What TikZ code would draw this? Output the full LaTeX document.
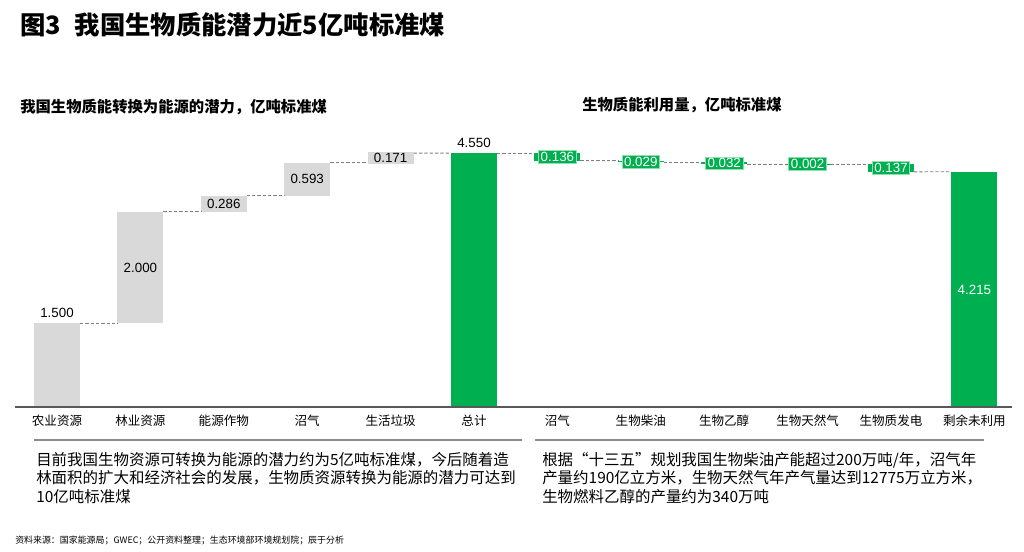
\documentclass[tikz,border=0pt]{standalone}
\usepackage{fontspec}
\setmainfont{Noto Sans CJK SC}
\newfontfamily\numf{Liberation Sans}
\usetikzlibrary{calc}
\definecolor{grn}{HTML}{00B050}
\definecolor{lgrn}{HTML}{8FE0AE}
\definecolor{barg}{HTML}{D9D9D9}
\definecolor{dashg}{HTML}{7F7F7F}
\definecolor{axisg}{HTML}{595959}
\definecolor{sepg}{HTML}{8C8C8C}
\newcommand{\bv}{41.85pt}
\begin{document}
\begin{tikzpicture}[x=0.75pt,y=-0.75pt,
  barbase/.style={inner sep=0pt,outer sep=0pt,minimum width=34.5pt},
  graybar/.style={barbase,fill=barg},
  greenbar/.style={barbase,fill=grn},
  conn/.style={draw=dashg,line width=0.6pt,dash pattern=on 2.5pt off 1.5pt},
  numlab/.style={font=\numf\fontsize{10}{12}\selectfont,inner sep=1pt},
  graylab/.style={numlab,fill=barg,minimum width=34.5pt,minimum height=9.5pt,inner sep=0pt},
  greenlab/.style={numlab,fill=grn,draw=lgrn,line width=0.5pt,text=white,inner xsep=1.6pt,inner ysep=0pt,minimum height=9.5pt},
  cat/.style={font=\fontsize{9.4}{11}\selectfont,inner sep=0pt},
  subt/.style={font=\fontsize{11.5}{13}\selectfont\bfseries,anchor=west,inner sep=0pt},
  body/.style={font=\fontsize{11.6}{13.9}\selectfont,anchor=north west,align=left,inner sep=0pt},
  axisline/.style={draw=axisg,line width=1.1pt},
  sepline/.style={draw=sepg,line width=0.8pt}]
\useasboundingbox (0,0) rectangle (1024,551);

% title and subtitles
\node[anchor=west,inner sep=0pt,font=\fontsize{19}{22}\selectfont\bfseries] (title) at (20,25) {图3\hspace{0.55em}我国生物质能潜力近5亿吨标准煤};
\node[subt] (subl) at (20,107) {我国生物质能转换为能源的潜力，亿吨标准煤};
\node[subt] (subr) at (582,105) {生物质能利用量，亿吨标准煤};

% bars
\node[graybar,anchor=south,minimum height=1.5*\bv] (b1) at (57,407) {};
\node[graybar,anchor=south,minimum height=2*\bv] (b2) at ($(b1.north)+(83.4,0)$) {};
\node[graybar,anchor=south,minimum height=0.286*\bv] (b3) at ($(b2.north)+(83.4,0)$) {};
\node[graybar,anchor=south,minimum height=0.593*\bv] (b4) at ($(b3.north)+(83.4,0)$) {};
\node[graybar,anchor=south,minimum height=0.171*\bv] (b5) at ($(b4.north)+(83.4,0)$) {};
\node[greenbar,anchor=south,minimum height=4.55*\bv] (b6) at (474,407) {};
\node[greenbar,anchor=north,minimum height=0.136*\bv] (b7) at ($(b6.north)+(83.4,0)$) {};
\node[greenbar,anchor=north,minimum height=0.029*\bv] (b8) at ($(b7.south)+(83.4,0)$) {};
\node[greenbar,anchor=north,minimum height=0.032*\bv] (b9) at ($(b8.south)+(83.4,0)$) {};
\node[greenbar,anchor=north,minimum height=0.002*\bv] (b10) at ($(b9.south)+(83.4,0)$) {};
\node[greenbar,anchor=north,minimum height=0.137*\bv] (b11) at ($(b10.south)+(83.4,0)$) {};
\node[greenbar,anchor=south,minimum height=4.215*\bv] (b12) at (974.4,407) {};

% connectors
\draw[conn] (b1.north east) -- (b2.south west);
\draw[conn] (b2.north east) -- (b3.south west);
\draw[conn] (b3.north east) -- (b4.south west);
\draw[conn] (b4.north east) -- (b5.south west);
\draw[conn] (b5.north east) -- (b6.north west);
\draw[conn] (b6.north east) -- (b7.north west);
\draw[conn] (b7.south east) -- (b8.north west);
\draw[conn] (b8.south east) -- (b9.north west);
\draw[conn] (b9.south east) -- (b10.north west);
\draw[conn] (b10.south east) -- (b11.north west);
\draw[conn] (b11.south east) -- (b12.north west);

% value labels
\node[numlab,anchor=south,yshift=2.8pt] (v1) at (b1.north) {1.500};
\node[numlab] (v2) at (b2.center) {2.000};
\node[graylab] (v3) at (b3.center) {0.286};
\node[numlab] (v4) at (b4.center) {0.593};
\node[graylab] (v5) at (b5.center) {0.171};
\node[numlab,anchor=south,yshift=3.2pt] (v6) at (b6.north) {4.550};
\node[greenlab] (v7) at (b7.center) {0.136};
\node[greenlab] (v8) at (b8.center) {0.029};
\node[greenlab] (v9) at (b9.center) {0.032};
\node[greenlab] (v10) at (b10.center) {0.002};
\node[greenlab] (v11) at (b11.center) {0.137};
\node[numlab,text=white] (v12) at (b12.center) {4.215};

% axis
\coordinate (axl) at (15,407);
\coordinate (axr) at (1012,407);
\draw[axisline] (axl) -- (axr);

% categories
\node[cat] (c1) at (57,421) {农业资源};
\node[cat] (c2) at (140.4,421) {林业资源};
\node[cat] (c3) at (223.8,421) {能源作物};
\node[cat] (c4) at (307.2,421) {沼气};
\node[cat] (c5) at (390.6,421) {生活垃圾};
\node[cat] (c6) at (474,421) {总计};
\node[cat] (c7) at (557.4,421) {沼气};
\node[cat] (c8) at (640.8,421) {生物柴油};
\node[cat] (c9) at (724.2,421) {生物乙醇};
\node[cat] (c10) at (807.6,421) {生物天然气};
\node[cat] (c11) at (891,421) {生物质发电};
\node[cat] (c12) at (974.4,421) {剩余未利用};

% separator lines
\coordinate (s1a) at (34,440);
\coordinate (s1b) at (522,440);
\coordinate (s2a) at (535,440);
\coordinate (s2b) at (984,440);
\draw[sepline] (s1a) -- (s1b);
\draw[sepline] (s2a) -- (s2b);

% body texts
\node[body] (tl) at (36,452) {目前我国生物资源可转换为能源的潜力约为5亿吨标准煤，今后随着造\\林面积的扩大和经济社会的发展，生物质资源转换为能源的潜力可达到\\10亿吨标准煤};
\node[body] (tr) at (542,452) {根据“十三五”规划我国生物柴油产能超过200万吨/年，沼气年\\产量约190亿立方米，生物天然气年产气量达到12775万立方米，\\生物燃料乙醇的产量约为340万吨};

% source
\node[anchor=west,inner sep=0pt,font=\fontsize{6.7}{8}\selectfont] (src) at (15,540) {资料来源：国家能源局；GWEC；公开资料整理；生态环境部环境规划院；辰于分析};
\end{tikzpicture}
\end{document}
